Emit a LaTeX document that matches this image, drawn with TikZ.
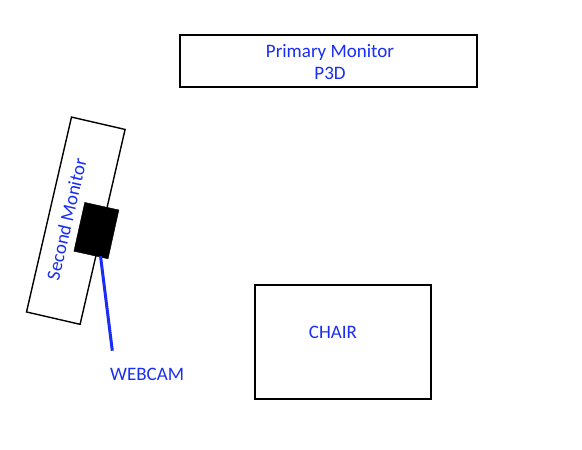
\documentclass[tikz,border=0pt]{standalone}
\usepackage{fontspec}
\setmainfont{Carlito}
\definecolor{lblue}{RGB}{25,45,245}
\begin{document}
\begin{tikzpicture}[x=1pt,y=-1pt,
  box/.style={draw=black,line width=1.4pt,inner sep=0pt,fill=white},
  lbl/.style={text=lblue,font=\fontsize{19}{22}\selectfont,inner sep=0pt,align=center}]
\useasboundingbox (0,0) rectangle (582,450);
\node[box,minimum width=297pt,minimum height=52pt] (prim) at (328.5,61) {};
\node[lbl] (primt) at (330,62) {Primary Monitor\\P3D};
\node[box,minimum width=176pt,minimum height=114pt] (chair) at (343,342) {};
\node[lbl] (chairt) at (333,332) {CHAIR};
\node[box,minimum width=55pt,minimum height=200pt,rotate=-13] (sec) at (75.8,220.7) {};
\node[lbl,rotate=77] (sect) at (66.5,219.3) {Second Monitor};
\node[draw=black,fill=black,minimum width=35pt,minimum height=50pt,inner sep=0pt,rotate=-12.5] (cam) at (96.4,230.6) {};
\coordinate (camb) at (100.5,256);
\node[lbl,anchor=west] (camt) at (110,374) {WEBCAM};
\coordinate (camend) at (112.3,350.7);
\draw[lblue,line width=3pt] (camb) -- (camend);
\end{tikzpicture}
\end{document}
